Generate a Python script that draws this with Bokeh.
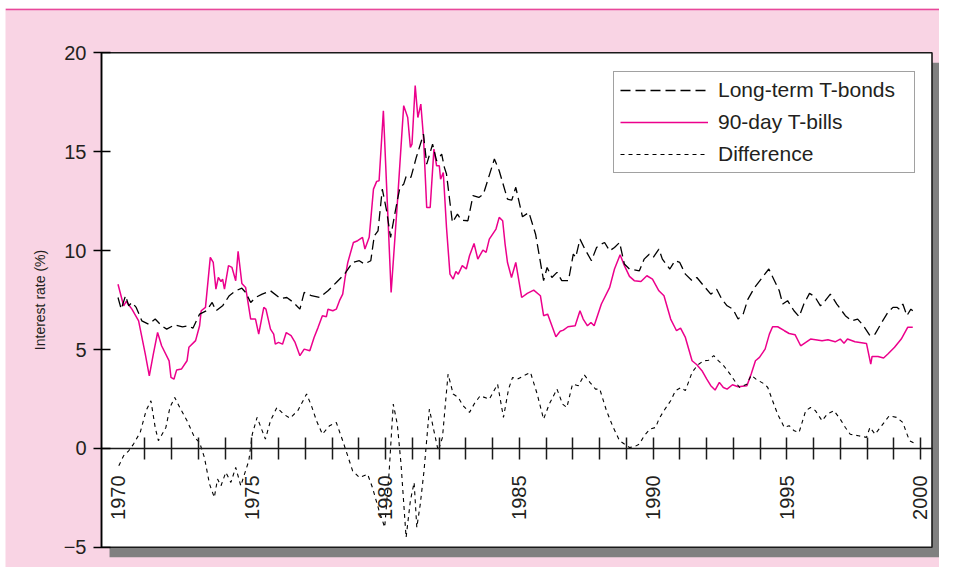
import math
from bokeh.plotting import figure
from bokeh.models import (LinearAxis, FixedTicker, Legend, LegendItem, Range1d)
from bokeh.embed import file_html
from bokeh.resources import INLINE

# ---------------- data ----------------
bond_years = [1970.00, 1970.12, 1970.28, 1970.40, 1970.52, 1970.68, 1970.89, 1971.14, 1971.39, 1971.63,
              1971.82, 1972.12, 1972.41, 1972.62, 1972.80, 1973.05, 1973.30, 1973.52, 1973.66, 1973.91,
              1974.16, 1974.40, 1974.63, 1974.77, 1974.96, 1975.14, 1975.39, 1975.70, 1976.07, 1976.31,
              1976.56, 1976.80, 1976.96, 1977.23, 1977.54, 1977.85, 1978.16, 1978.47, 1978.77, 1979.02,
              1979.21, 1979.45, 1979.58, 1979.72, 1979.88, 1980.04, 1980.19, 1980.37, 1980.54, 1980.68,
              1980.78, 1980.95, 1981.15, 1981.42, 1981.54, 1981.76, 1981.91, 1982.10, 1982.20, 1982.28,
              1982.50, 1982.69, 1982.84, 1983.08, 1983.27, 1983.49, 1983.66, 1984.07, 1984.25, 1984.56,
              1984.72, 1984.87, 1985.12, 1985.36, 1985.61, 1985.91, 1986.04, 1986.22, 1986.41, 1986.59,
              1986.84, 1987.02, 1987.11, 1987.27, 1987.45, 1987.70, 1987.89, 1988.07, 1988.19, 1988.38,
              1988.56, 1988.75, 1988.93, 1989.12, 1989.49, 1989.67, 1989.86, 1990.01, 1990.22, 1990.35,
              1990.63, 1990.82, 1991.00, 1991.21, 1991.46, 1991.64, 1991.89, 1992.16, 1992.38, 1992.57,
              1992.77, 1992.99, 1993.18, 1993.37, 1993.55, 1993.80, 1994.04, 1994.33, 1994.54, 1994.72,
              1994.85, 1995.03, 1995.27, 1995.46, 1995.64, 1995.85, 1996.05, 1996.26, 1996.44, 1996.63,
              1996.87, 1997.19, 1997.43, 1997.65, 1997.87, 1998.11, 1998.30, 1998.55, 1998.78, 1998.97,
              1999.13, 1999.21, 1999.34, 1999.49, 1999.64, 1999.71]
bond_rates = [7.63, 7.04, 7.72, 7.21, 7.38, 7.13, 6.45, 6.28, 6.54, 6.20,
              6.03, 6.25, 6.15, 6.20, 6.08, 6.79, 6.96, 7.38, 6.96, 7.21,
              7.72, 7.97, 8.10, 7.89, 7.38, 7.63, 7.80, 7.97, 7.58, 7.63,
              7.38, 7.04, 7.89, 7.72, 7.63, 7.97, 8.39, 8.81, 9.40, 9.49,
              9.32, 9.49, 10.75, 11.00, 13.11, 12.02, 10.67, 12.02, 13.20, 13.36,
              13.79, 13.70, 14.71, 15.89, 14.37, 15.38, 14.54, 14.88, 14.21, 13.87,
              11.43, 11.84, 11.54, 11.51, 12.78, 12.69, 12.86, 14.63, 14.04, 12.60,
              12.55, 13.20, 11.71, 11.93, 10.83, 8.48, 9.15, 8.64, 8.90, 8.48,
              8.48, 9.82, 9.66, 10.58, 10.08, 9.49, 10.16, 10.33, 10.41, 9.99,
              10.16, 10.41, 9.32, 9.07, 8.98, 9.57, 9.82, 9.66, 10.08, 9.57,
              9.07, 9.49, 9.40, 8.81, 8.48, 8.64, 8.23, 7.80, 8.05, 7.55,
              7.21, 7.04, 6.54, 6.79, 7.55, 8.14, 8.56, 9.07, 8.48, 7.97,
              7.30, 7.47, 6.96, 6.66, 7.30, 7.84, 7.67, 7.21, 7.47, 7.80,
              7.30, 6.71, 6.45, 6.54, 6.20, 5.70, 5.78, 6.37, 6.88, 7.13,
              7.13, 7.04, 7.30, 6.71, 7.04, 6.96]

bill_years = [1970.00, 1970.21, 1970.31, 1970.52, 1970.77, 1971.02, 1971.17, 1971.32, 1971.48, 1971.63,
              1971.91, 1971.98, 1972.09, 1972.19, 1972.37, 1972.58, 1972.65, 1972.90, 1973.05, 1973.11,
              1973.27, 1973.45, 1973.56, 1973.66, 1973.75, 1973.85, 1973.91, 1973.98, 1974.13, 1974.26,
              1974.40, 1974.49, 1974.63, 1974.77, 1974.96, 1975.14, 1975.26, 1975.45, 1975.53, 1975.70,
              1975.82, 1975.88, 1976.00, 1976.15, 1976.29, 1976.47, 1976.62, 1976.80, 1976.96, 1977.17,
              1977.33, 1977.48, 1977.64, 1977.79, 1977.85, 1978.03, 1978.16, 1978.28, 1978.40, 1978.49,
              1978.59, 1978.80, 1978.96, 1979.14, 1979.23, 1979.39, 1979.55, 1979.67, 1979.76, 1979.92,
              1980.07, 1980.21, 1980.44, 1980.68, 1980.83, 1980.93, 1980.99, 1981.11, 1981.21, 1981.32,
              1981.42, 1981.54, 1981.67, 1981.81, 1981.91, 1982.01, 1982.06, 1982.16, 1982.28, 1982.41,
              1982.53, 1982.63, 1982.72, 1982.87, 1983.02, 1983.14, 1983.31, 1983.45, 1983.64, 1983.76,
              1983.88, 1984.13, 1984.25, 1984.38, 1984.47, 1984.56, 1984.71, 1984.87, 1985.09, 1985.30,
              1985.54, 1985.79, 1985.91, 1986.06, 1986.37, 1986.53, 1986.65, 1986.82, 1987.09, 1987.27,
              1987.39, 1987.55, 1987.68, 1987.80, 1988.07, 1988.38, 1988.56, 1988.77, 1988.93, 1989.12,
              1989.30, 1989.55, 1989.77, 1989.98, 1990.22, 1990.41, 1990.66, 1990.88, 1991.03, 1991.21,
              1991.46, 1991.64, 1991.83, 1992.01, 1992.16, 1992.32, 1992.48, 1992.63, 1992.77, 1992.97,
              1993.18, 1993.51, 1993.67, 1993.83, 1993.98, 1994.19, 1994.35, 1994.47, 1994.66, 1994.91,
              1995.09, 1995.31, 1995.52, 1995.89, 1996.32, 1996.54, 1996.81, 1997.00, 1997.14, 1997.27,
              1997.55, 1997.98, 1998.14, 1998.19, 1998.41, 1998.62, 1998.78, 1999.03, 1999.28, 1999.52,
              1999.71]
bill_rates = [8.30, 7.21, 7.43, 7.04, 6.45, 4.77, 3.67, 4.77, 5.86, 5.19,
              4.43, 3.59, 3.50, 3.96, 4.01, 4.43, 5.11, 5.45, 6.20, 6.96,
              7.13, 9.66, 9.40, 8.05, 8.64, 8.44, 8.56, 8.05, 9.24, 9.15,
              8.48, 9.96, 8.34, 8.14, 6.54, 6.54, 5.78, 7.13, 7.04, 6.03,
              5.78, 5.27, 5.36, 5.27, 5.86, 5.70, 5.36, 4.69, 5.02, 4.94,
              5.61, 6.12, 6.71, 6.66, 7.04, 6.96, 7.04, 7.47, 7.80, 8.64,
              9.40, 10.41, 10.50, 10.67, 10.08, 10.67, 13.11, 13.50, 13.53, 17.07,
              12.35, 7.89, 12.35, 17.33, 16.73, 15.22, 15.38, 18.34, 16.73, 17.41,
              15.72, 12.18, 12.18, 15.13, 14.29, 14.29, 13.61, 13.95, 11.17, 8.81,
              8.56, 8.95, 8.81, 9.24, 9.07, 9.74, 10.36, 9.57, 10.03, 9.91,
              10.58, 11.09, 11.68, 11.51, 10.33, 9.40, 8.64, 9.40, 7.63, 7.84,
              8.00, 7.72, 6.71, 6.79, 5.65, 5.92, 5.98, 6.15, 6.20, 6.96,
              6.54, 6.20, 6.37, 6.20, 7.30, 8.14, 9.07, 9.79, 9.24, 8.70,
              8.48, 8.44, 8.73, 8.56, 7.97, 7.72, 6.54, 5.95, 6.08, 5.61,
              4.43, 4.23, 3.93, 3.50, 3.17, 2.95, 3.34, 3.08, 3.00, 3.22,
              3.12, 3.17, 3.76, 4.43, 4.60, 5.02, 5.78, 6.15, 6.15, 5.95,
              5.81, 5.75, 5.19, 5.53, 5.44, 5.49, 5.39, 5.53, 5.32, 5.53,
              5.39, 5.31, 4.26, 4.65, 4.65, 4.57, 4.77, 5.11, 5.53, 6.12,
              6.12]

diff_years = [1970.03, 1970.21, 1970.40, 1970.58, 1970.83, 1971.05, 1971.23, 1971.39, 1971.51, 1971.79,
              1971.94, 1972.12, 1972.31, 1972.58, 1972.86, 1973.05, 1973.23, 1973.42, 1973.60, 1973.72,
              1973.85, 1974.03, 1974.22, 1974.40, 1974.59, 1974.75, 1974.89, 1975.02, 1975.20, 1975.51,
              1975.70, 1975.94, 1976.19, 1976.43, 1976.72, 1977.05, 1977.23, 1977.42, 1977.64, 1977.91,
              1978.16, 1978.40, 1978.77, 1979.02, 1979.33, 1979.51, 1979.76, 1979.97, 1980.13, 1980.29,
              1980.44, 1980.58, 1980.77, 1980.93, 1981.07, 1981.17, 1981.30, 1981.44, 1981.64, 1981.81,
              1981.97, 1982.13, 1982.26, 1982.34, 1982.53, 1982.72, 1982.90, 1983.14, 1983.33, 1983.54,
              1983.88, 1984.19, 1984.41, 1984.60, 1984.75, 1984.93, 1985.18, 1985.42, 1985.67, 1985.91,
              1986.12, 1986.41, 1986.62, 1986.78, 1986.99, 1987.21, 1987.43, 1987.64, 1987.85, 1988.01,
              1988.26, 1988.50, 1988.75, 1988.93, 1989.12, 1989.30, 1989.49, 1989.67, 1989.89, 1990.10,
              1990.22, 1990.41, 1990.66, 1990.84, 1991.05, 1991.21, 1991.46, 1991.67, 1991.89, 1992.08,
              1992.27, 1992.45, 1992.63, 1992.88, 1993.11, 1993.24, 1993.51, 1993.67, 1993.85, 1994.17,
              1994.29, 1994.47, 1994.66, 1994.91, 1995.09, 1995.28, 1995.46, 1995.71, 1995.89, 1996.07,
              1996.32, 1996.51, 1996.76, 1997.00, 1997.19, 1997.37, 1997.68, 1997.98, 1998.11, 1998.30,
              1998.55, 1998.83, 1999.10, 1999.34, 1999.47, 1999.59, 1999.84]
diff_values = [-0.88, -0.37, -0.12, 0.22, 0.81, 1.91, 2.41, 1.06, 0.39, 1.06,
               2.07, 2.58, 2.07, 1.40, 0.56, 0.30, -0.46, -1.80, -2.48, -1.55,
               -1.89, -1.21, -1.72, -0.96, -1.89, -1.21, -0.62, 0.72, 1.57, 0.47,
               1.40, 2.07, 1.73, 1.53, 1.91, 2.75, 2.16, 1.40, 0.72, 1.15,
               1.31, 0.39, -1.13, -1.47, -1.30, -1.97, -3.15, -3.99, -1.30, 2.24,
               1.23, -0.79, -4.50, -2.64, -1.72, -3.99, -2.82, -1.13, 1.99, 0.89,
               -0.12, 0.56, 2.58, 3.76, 2.75, 2.58, 2.16, 1.82, 2.28, 2.66,
               2.49, 3.25, 1.57, 3.00, 3.59, 3.50, 3.68, 3.84, 2.75, 1.48,
               2.24, 3.00, 2.24, 2.07, 3.25, 3.17, 3.72, 3.34, 3.00, 3.00,
               1.91, 1.10, 0.39, 0.22, 0.05, 0.08, 0.22, 0.64, 0.98, 1.06,
               1.48, 1.91, 2.41, 2.92, 3.08, 2.92, 3.84, 4.22, 4.43, 4.46,
               4.69, 4.43, 4.20, 3.76, 3.30, 3.08, 3.25, 3.70, 3.50, 3.25,
               3.08, 2.41, 1.73, 1.06, 1.15, 0.89, 0.81, 1.91, 2.07, 1.91,
               1.40, 1.73, 1.91, 1.48, 1.06, 0.72, 0.64, 0.56, 1.06, 0.72,
               1.15, 1.65, 1.57, 1.31, 0.81, 0.39, 0.22]

y_ticks = [-5, 0, 5, 10, 15, 20]
x_tick_years = list(range(1971, 2001))
x_label_years = [1970, 1975, 1980, 1985, 1990, 1995, 2000]
series_labels = ["Long-term T-bonds", "90-day T-bills", "Difference"]

# ---------------- styling / layout ----------------
PINK_BG = "#f9d4e4"
PINK_LINE = "#e8489b"
MAGENTA = "#ec008c"
TEXT = "#231f20"
FONT = "Liberation Sans"

# visible range of the whole pink panel (frame covers the whole panel)
XR0, XR1 = 1965.794, 2000.71
YR0, YR1 = -6.02, 22.24
# white plotting panel and its drop shadow
X0, X1 = 1969.383, 2000.43
Y0, Y1 = -5.0, 20.0
DX, DY = 0.30, 0.50

p = figure(width=939, height=567, output_backend="svg", toolbar_location=None,
           x_range=Range1d(XR0, XR1), y_range=Range1d(YR0, YR1),
           x_axis_location=None, y_axis_location=None,
           min_border_left=5, min_border_right=0, min_border_top=8, min_border_bottom=0)
p.background_fill_color = PINK_BG
p.border_fill_color = "white"
p.outline_line_color = None
p.grid.visible = False

# hot-pink rule along the top of the panel
p.quad(left=[XR0], right=[XR1], bottom=[YR1 - 0.09], top=[YR1],
       fill_color=PINK_LINE, line_color=None)

# shadow + white panel
p.quad(left=[X0 + DX], right=[X1 + DX], bottom=[Y0 - DY], top=[Y1 - DY],
       fill_color="#808080", line_color=None)
p.quad(left=[X0], right=[X1], bottom=[Y0], top=[Y1],
       fill_color="white", line_color="#1a1a1a", line_width=1.6)

r_bills = p.line(bill_years, bill_rates, line_color=MAGENTA, line_width=1.5)
r_bonds = p.line(bond_years, bond_rates, line_color="black", line_width=1.3, line_dash="10 5")
r_diff = p.line(diff_years, diff_values, line_color="black", line_width=1.1, line_dash="4 4")

# y axis on the left edge of the white panel
yax = LinearAxis(fixed_location=X0, ticker=FixedTicker(ticks=y_ticks), bounds=(Y0, Y1),
                 major_label_overrides={-5: "\u22125"},
                 minor_tick_line_color=None,
                 major_tick_in=9, major_tick_out=8,
                 axis_line_color="black", axis_line_width=1.5,
                 major_tick_line_color="black", major_tick_line_width=1.5,
                 major_label_text_font=FONT, major_label_text_font_size="20px",
                 major_label_text_color=TEXT, major_label_standoff=7,
                 axis_label="Interest rate (%)", axis_label_text_font=FONT,
                 axis_label_text_font_size="14px", axis_label_text_font_style="normal",
                 axis_label_text_color=TEXT, axis_label_standoff=13)
p.add_layout(yax, "left")

# x axis at y = 0: tick marks
tick_axis = LinearAxis(fixed_location=0, ticker=FixedTicker(ticks=x_tick_years),
                       bounds=(X0, X1),
                       major_label_overrides={y: "" for y in x_tick_years},
                       major_tick_in=11, major_tick_out=11,
                       major_tick_line_color="#1a1a1a", major_tick_line_width=1.5,
                       axis_line_color="#1a1a1a", axis_line_width=1.5,
                       minor_tick_line_color=None)
p.add_layout(tick_axis, "below")

# x axis labels (rotated)
label_axis = LinearAxis(fixed_location=0, ticker=FixedTicker(ticks=x_label_years),
                        axis_line_color=None, major_tick_line_color=None,
                        major_tick_in=0, major_tick_out=0, minor_tick_line_color=None,
                        major_label_orientation=math.pi / 2,
                        major_label_standoff=27,
                        major_label_text_font=FONT, major_label_text_font_size="20px",
                        major_label_text_color=TEXT)
p.add_layout(label_axis, "below")

legend = Legend(items=[LegendItem(label=series_labels[0], renderers=[r_bonds]),
                       LegendItem(label=series_labels[1], renderers=[r_bills]),
                       LegendItem(label=series_labels[2], renderers=[r_diff])],
                location=(608, 394), orientation="vertical",
                label_text_font=FONT, label_text_font_size="21px", label_text_color=TEXT,
                glyph_width=88, glyph_height=22, label_height=22, label_width=190,
                label_standoff=10, spacing=8, padding=6, margin=0,
                border_line_color="#444444", border_line_width=1.5,
                background_fill_color="white", background_fill_alpha=1.0)
p.add_layout(legend)

open("out.html", "w").write(file_html(p, INLINE))
